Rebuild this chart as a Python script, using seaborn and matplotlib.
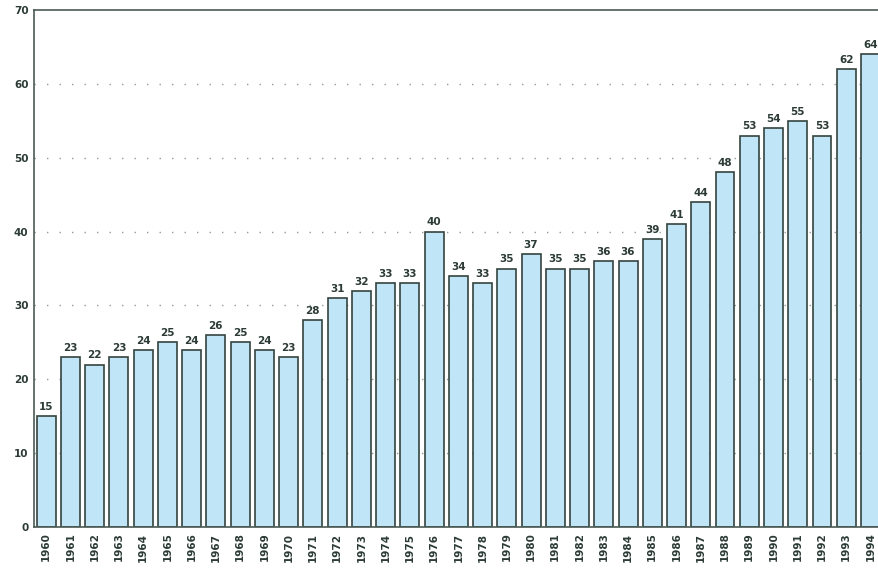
import pandas as pd
import matplotlib
matplotlib.use("Agg")
import matplotlib.pyplot as plt
import seaborn as sns

years = [str(y) for y in range(1960, 1995)]
values = [15, 23, 22, 23, 24, 25, 24, 26, 25, 24, 23, 28, 31, 32, 33, 33, 40, 34,
          33, 35, 37, 35, 35, 36, 36, 39, 41, 44, 48, 53, 54, 55, 53, 62, 64]

df = pd.DataFrame({"year": years, "value": values})

sns.set_style("white")
plt.rcParams['font.family'] = ['DejaVu Sans']

fig = plt.figure(figsize=(8.79, 5.69), dpi=100)
ax = fig.add_axes([0.0387, 0.0738, 0.9613, 0.9086])

sns.barplot(data=df, x="year", y="value", color="#bfe5f6", edgecolor="#34443f",
            linewidth=1.2, width=0.78, saturation=1, ax=ax)

# value labels above bars
ax.bar_label(ax.containers[0], labels=[str(v) for v in values], padding=3,
             fontsize=7.5, fontweight="bold", color="#2c3b36")

# dotted grid
for g in range(10, 70, 10):
    ax.axhline(g, color="#8f9c96", linestyle=(0, (1, 8)), linewidth=1.0, zorder=0)

ax.set_ylim(0, 70)
ax.set_xlim(-0.5, 34.35)
ax.set_yticks(range(0, 80, 10))
ax.tick_params(axis="both", length=0, labelsize=7.5, colors="#2c3b36", pad=4)
for lbl in ax.get_yticklabels():
    lbl.set_fontweight("bold")
for lbl in ax.get_xticklabels():
    lbl.set_fontweight("bold")
    lbl.set_rotation(90)
ax.set_xlabel("")
ax.set_ylabel("")

for side in ["left", "top", "bottom"]:
    ax.spines[side].set_color("#4a5a54")
    ax.spines[side].set_linewidth(1.2)
ax.spines["right"].set_visible(False)

fig.savefig("out.png", dpi=100, facecolor="white")
